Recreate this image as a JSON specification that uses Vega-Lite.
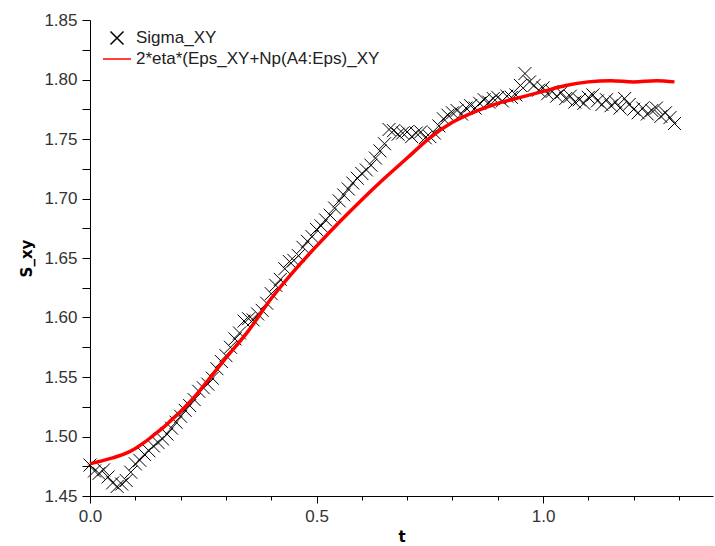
{
  "$schema": "https://vega.github.io/schema/vega-lite/v6.json",
  "width": 623,
  "height": 476,
  "autosize": {"type": "none"},
  "padding": {"left": 90, "top": 20, "right": 2, "bottom": 50},
  "background": "white",
  "config": {
    "view": {"stroke": null},
    "axis": {
      "grid": false,
      "domainColor": "black",
      "tickColor": "black",
      "labelFont": "Liberation Sans",
      "labelFontSize": 17,
      "labelColor": "#333333",
      "titleFont": "DejaVu Sans",
      "titleFontSize": 15,
      "titleFontWeight": "bold",
      "titleColor": "black"
    },
    "legend": {
      "labelFont": "Liberation Sans",
      "labelFontSize": 17,
      "labelColor": "#222222",
      "labelLimit": 0
    }
  },
  "datasets": {
    "sigma": [
      {"t": 0.00, "value": 1.476, "series": "Sigma_XY"},
      {"t": 0.01, "value": 1.471, "series": "Sigma_XY"},
      {"t": 0.02, "value": 1.469, "series": "Sigma_XY"},
      {"t": 0.03, "value": 1.472, "series": "Sigma_XY"},
      {"t": 0.04, "value": 1.466, "series": "Sigma_XY"},
      {"t": 0.05, "value": 1.461, "series": "Sigma_XY"},
      {"t": 0.06, "value": 1.458, "series": "Sigma_XY"},
      {"t": 0.07, "value": 1.460, "series": "Sigma_XY"},
      {"t": 0.08, "value": 1.463, "series": "Sigma_XY"},
      {"t": 0.09, "value": 1.470, "series": "Sigma_XY"},
      {"t": 0.10, "value": 1.477, "series": "Sigma_XY"},
      {"t": 0.11, "value": 1.480, "series": "Sigma_XY"},
      {"t": 0.12, "value": 1.485, "series": "Sigma_XY"},
      {"t": 0.13, "value": 1.488, "series": "Sigma_XY"},
      {"t": 0.14, "value": 1.492, "series": "Sigma_XY"},
      {"t": 0.15, "value": 1.495, "series": "Sigma_XY"},
      {"t": 0.16, "value": 1.498, "series": "Sigma_XY"},
      {"t": 0.17, "value": 1.502, "series": "Sigma_XY"},
      {"t": 0.18, "value": 1.507, "series": "Sigma_XY"},
      {"t": 0.19, "value": 1.512, "series": "Sigma_XY"},
      {"t": 0.20, "value": 1.517, "series": "Sigma_XY"},
      {"t": 0.21, "value": 1.522, "series": "Sigma_XY"},
      {"t": 0.22, "value": 1.526, "series": "Sigma_XY"},
      {"t": 0.23, "value": 1.531, "series": "Sigma_XY"},
      {"t": 0.24, "value": 1.538, "series": "Sigma_XY"},
      {"t": 0.25, "value": 1.541, "series": "Sigma_XY"},
      {"t": 0.26, "value": 1.544, "series": "Sigma_XY"},
      {"t": 0.27, "value": 1.549, "series": "Sigma_XY"},
      {"t": 0.28, "value": 1.557, "series": "Sigma_XY"},
      {"t": 0.29, "value": 1.563, "series": "Sigma_XY"},
      {"t": 0.30, "value": 1.568, "series": "Sigma_XY"},
      {"t": 0.31, "value": 1.575, "series": "Sigma_XY"},
      {"t": 0.32, "value": 1.582, "series": "Sigma_XY"},
      {"t": 0.33, "value": 1.587, "series": "Sigma_XY"},
      {"t": 0.34, "value": 1.597, "series": "Sigma_XY"},
      {"t": 0.35, "value": 1.599, "series": "Sigma_XY"},
      {"t": 0.36, "value": 1.598, "series": "Sigma_XY"},
      {"t": 0.37, "value": 1.603, "series": "Sigma_XY"},
      {"t": 0.38, "value": 1.606, "series": "Sigma_XY"},
      {"t": 0.39, "value": 1.612, "series": "Sigma_XY"},
      {"t": 0.40, "value": 1.620, "series": "Sigma_XY"},
      {"t": 0.41, "value": 1.627, "series": "Sigma_XY"},
      {"t": 0.42, "value": 1.632, "series": "Sigma_XY"},
      {"t": 0.43, "value": 1.641, "series": "Sigma_XY"},
      {"t": 0.44, "value": 1.647, "series": "Sigma_XY"},
      {"t": 0.45, "value": 1.648, "series": "Sigma_XY"},
      {"t": 0.46, "value": 1.652, "series": "Sigma_XY"},
      {"t": 0.47, "value": 1.659, "series": "Sigma_XY"},
      {"t": 0.48, "value": 1.664, "series": "Sigma_XY"},
      {"t": 0.49, "value": 1.668, "series": "Sigma_XY"},
      {"t": 0.50, "value": 1.674, "series": "Sigma_XY"},
      {"t": 0.51, "value": 1.677, "series": "Sigma_XY"},
      {"t": 0.52, "value": 1.682, "series": "Sigma_XY"},
      {"t": 0.53, "value": 1.686, "series": "Sigma_XY"},
      {"t": 0.54, "value": 1.692, "series": "Sigma_XY"},
      {"t": 0.55, "value": 1.698, "series": "Sigma_XY"},
      {"t": 0.56, "value": 1.703, "series": "Sigma_XY"},
      {"t": 0.57, "value": 1.708, "series": "Sigma_XY"},
      {"t": 0.58, "value": 1.713, "series": "Sigma_XY"},
      {"t": 0.59, "value": 1.717, "series": "Sigma_XY"},
      {"t": 0.60, "value": 1.721, "series": "Sigma_XY"},
      {"t": 0.61, "value": 1.724, "series": "Sigma_XY"},
      {"t": 0.62, "value": 1.728, "series": "Sigma_XY"},
      {"t": 0.63, "value": 1.734, "series": "Sigma_XY"},
      {"t": 0.64, "value": 1.740, "series": "Sigma_XY"},
      {"t": 0.65, "value": 1.746, "series": "Sigma_XY"},
      {"t": 0.66, "value": 1.758, "series": "Sigma_XY"},
      {"t": 0.67, "value": 1.757, "series": "Sigma_XY"},
      {"t": 0.68, "value": 1.754, "series": "Sigma_XY"},
      {"t": 0.69, "value": 1.755, "series": "Sigma_XY"},
      {"t": 0.70, "value": 1.756, "series": "Sigma_XY"},
      {"t": 0.71, "value": 1.752, "series": "Sigma_XY"},
      {"t": 0.72, "value": 1.755, "series": "Sigma_XY"},
      {"t": 0.73, "value": 1.756, "series": "Sigma_XY"},
      {"t": 0.74, "value": 1.751, "series": "Sigma_XY"},
      {"t": 0.75, "value": 1.752, "series": "Sigma_XY"},
      {"t": 0.76, "value": 1.755, "series": "Sigma_XY"},
      {"t": 0.77, "value": 1.761, "series": "Sigma_XY"},
      {"t": 0.78, "value": 1.767, "series": "Sigma_XY"},
      {"t": 0.79, "value": 1.770, "series": "Sigma_XY"},
      {"t": 0.80, "value": 1.772, "series": "Sigma_XY"},
      {"t": 0.81, "value": 1.774, "series": "Sigma_XY"},
      {"t": 0.82, "value": 1.771, "series": "Sigma_XY"},
      {"t": 0.83, "value": 1.776, "series": "Sigma_XY"},
      {"t": 0.84, "value": 1.778, "series": "Sigma_XY"},
      {"t": 0.85, "value": 1.776, "series": "Sigma_XY"},
      {"t": 0.86, "value": 1.780, "series": "Sigma_XY"},
      {"t": 0.87, "value": 1.783, "series": "Sigma_XY"},
      {"t": 0.88, "value": 1.781, "series": "Sigma_XY"},
      {"t": 0.89, "value": 1.784, "series": "Sigma_XY"},
      {"t": 0.90, "value": 1.785, "series": "Sigma_XY"},
      {"t": 0.91, "value": 1.782, "series": "Sigma_XY"},
      {"t": 0.92, "value": 1.786, "series": "Sigma_XY"},
      {"t": 0.93, "value": 1.785, "series": "Sigma_XY"},
      {"t": 0.94, "value": 1.787, "series": "Sigma_XY"},
      {"t": 0.95, "value": 1.795, "series": "Sigma_XY"},
      {"t": 0.96, "value": 1.805, "series": "Sigma_XY"},
      {"t": 0.97, "value": 1.798, "series": "Sigma_XY"},
      {"t": 0.98, "value": 1.795, "series": "Sigma_XY"},
      {"t": 0.99, "value": 1.791, "series": "Sigma_XY"},
      {"t": 1.00, "value": 1.793, "series": "Sigma_XY"},
      {"t": 1.01, "value": 1.788, "series": "Sigma_XY"},
      {"t": 1.02, "value": 1.790, "series": "Sigma_XY"},
      {"t": 1.03, "value": 1.786, "series": "Sigma_XY"},
      {"t": 1.04, "value": 1.789, "series": "Sigma_XY"},
      {"t": 1.05, "value": 1.784, "series": "Sigma_XY"},
      {"t": 1.06, "value": 1.786, "series": "Sigma_XY"},
      {"t": 1.07, "value": 1.781, "series": "Sigma_XY"},
      {"t": 1.08, "value": 1.783, "series": "Sigma_XY"},
      {"t": 1.09, "value": 1.780, "series": "Sigma_XY"},
      {"t": 1.10, "value": 1.785, "series": "Sigma_XY"},
      {"t": 1.11, "value": 1.787, "series": "Sigma_XY"},
      {"t": 1.12, "value": 1.782, "series": "Sigma_XY"},
      {"t": 1.13, "value": 1.779, "series": "Sigma_XY"},
      {"t": 1.14, "value": 1.783, "series": "Sigma_XY"},
      {"t": 1.15, "value": 1.778, "series": "Sigma_XY"},
      {"t": 1.16, "value": 1.781, "series": "Sigma_XY"},
      {"t": 1.17, "value": 1.776, "series": "Sigma_XY"},
      {"t": 1.18, "value": 1.784, "series": "Sigma_XY"},
      {"t": 1.19, "value": 1.779, "series": "Sigma_XY"},
      {"t": 1.20, "value": 1.775, "series": "Sigma_XY"},
      {"t": 1.21, "value": 1.772, "series": "Sigma_XY"},
      {"t": 1.22, "value": 1.776, "series": "Sigma_XY"},
      {"t": 1.23, "value": 1.771, "series": "Sigma_XY"},
      {"t": 1.24, "value": 1.774, "series": "Sigma_XY"},
      {"t": 1.25, "value": 1.776, "series": "Sigma_XY"},
      {"t": 1.26, "value": 1.769, "series": "Sigma_XY"},
      {"t": 1.27, "value": 1.772, "series": "Sigma_XY"},
      {"t": 1.28, "value": 1.768, "series": "Sigma_XY"},
      {"t": 1.29, "value": 1.763, "series": "Sigma_XY"}
    ],
    "model": [
      {"t": 0.00, "value": 1.477, "series": "2*eta*(Eps_XY+Np(A4:Eps)_XY"},
      {"t": 0.02, "value": 1.479, "series": "2*eta*(Eps_XY+Np(A4:Eps)_XY"},
      {"t": 0.05, "value": 1.482, "series": "2*eta*(Eps_XY+Np(A4:Eps)_XY"},
      {"t": 0.08, "value": 1.486, "series": "2*eta*(Eps_XY+Np(A4:Eps)_XY"},
      {"t": 0.10, "value": 1.490, "series": "2*eta*(Eps_XY+Np(A4:Eps)_XY"},
      {"t": 0.12, "value": 1.495, "series": "2*eta*(Eps_XY+Np(A4:Eps)_XY"},
      {"t": 0.14, "value": 1.501, "series": "2*eta*(Eps_XY+Np(A4:Eps)_XY"},
      {"t": 0.16, "value": 1.507, "series": "2*eta*(Eps_XY+Np(A4:Eps)_XY"},
      {"t": 0.18, "value": 1.514, "series": "2*eta*(Eps_XY+Np(A4:Eps)_XY"},
      {"t": 0.20, "value": 1.521, "series": "2*eta*(Eps_XY+Np(A4:Eps)_XY"},
      {"t": 0.23, "value": 1.533, "series": "2*eta*(Eps_XY+Np(A4:Eps)_XY"},
      {"t": 0.26, "value": 1.547, "series": "2*eta*(Eps_XY+Np(A4:Eps)_XY"},
      {"t": 0.30, "value": 1.566, "series": "2*eta*(Eps_XY+Np(A4:Eps)_XY"},
      {"t": 0.35, "value": 1.589, "series": "2*eta*(Eps_XY+Np(A4:Eps)_XY"},
      {"t": 0.40, "value": 1.616, "series": "2*eta*(Eps_XY+Np(A4:Eps)_XY"},
      {"t": 0.45, "value": 1.639, "series": "2*eta*(Eps_XY+Np(A4:Eps)_XY"},
      {"t": 0.50, "value": 1.660, "series": "2*eta*(Eps_XY+Np(A4:Eps)_XY"},
      {"t": 0.55, "value": 1.680, "series": "2*eta*(Eps_XY+Np(A4:Eps)_XY"},
      {"t": 0.60, "value": 1.699, "series": "2*eta*(Eps_XY+Np(A4:Eps)_XY"},
      {"t": 0.65, "value": 1.717, "series": "2*eta*(Eps_XY+Np(A4:Eps)_XY"},
      {"t": 0.70, "value": 1.734, "series": "2*eta*(Eps_XY+Np(A4:Eps)_XY"},
      {"t": 0.75, "value": 1.751, "series": "2*eta*(Eps_XY+Np(A4:Eps)_XY"},
      {"t": 0.80, "value": 1.764, "series": "2*eta*(Eps_XY+Np(A4:Eps)_XY"},
      {"t": 0.85, "value": 1.773, "series": "2*eta*(Eps_XY+Np(A4:Eps)_XY"},
      {"t": 0.90, "value": 1.780, "series": "2*eta*(Eps_XY+Np(A4:Eps)_XY"},
      {"t": 0.95, "value": 1.785, "series": "2*eta*(Eps_XY+Np(A4:Eps)_XY"},
      {"t": 1.00, "value": 1.790, "series": "2*eta*(Eps_XY+Np(A4:Eps)_XY"},
      {"t": 1.05, "value": 1.795, "series": "2*eta*(Eps_XY+Np(A4:Eps)_XY"},
      {"t": 1.10, "value": 1.798, "series": "2*eta*(Eps_XY+Np(A4:Eps)_XY"},
      {"t": 1.15, "value": 1.799, "series": "2*eta*(Eps_XY+Np(A4:Eps)_XY"},
      {"t": 1.20, "value": 1.798, "series": "2*eta*(Eps_XY+Np(A4:Eps)_XY"},
      {"t": 1.25, "value": 1.799, "series": "2*eta*(Eps_XY+Np(A4:Eps)_XY"},
      {"t": 1.29, "value": 1.798, "series": "2*eta*(Eps_XY+Np(A4:Eps)_XY"}
    ]
  },
  "layer": [
    {
      "data": {"name": "sigma"},
      "mark": {"type": "point", "filled": false, "strokeWidth": 1, "size": 400, "opacity": 1},
      "encoding": {
        "x": {
          "field": "t", "type": "quantitative",
          "scale": {"domain": [0, 1.375], "nice": false, "zero": false},
          "axis": {"orient": "bottom", "values": [0, 0.5, 1.0], "format": ".1f", "tickSize": 7, "labelPadding": 5, "title": "t", "titlePadding": 5, "labelFlush": false}
        },
        "y": {
          "field": "value", "type": "quantitative",
          "scale": {"domain": [1.45, 1.85], "nice": false, "zero": false},
          "axis": {
            "orient": "left",
            "values": [1.45, 1.475, 1.5, 1.525, 1.55, 1.575, 1.6, 1.625, 1.65, 1.675, 1.7, 1.725, 1.75, 1.775, 1.8, 1.825, 1.85],
            "labelExpr": "round(datum.value * 40) % 2 == 1 ? '' : format(datum.value, '.2f')",
            "tickSize": 8, "labelPadding": 5, "title": "S_xy", "titlePadding": 9, "labelFlush": false
          }
        },
        "color": {
          "field": "series", "type": "nominal",
          "scale": {"domain": ["Sigma_XY", "2*eta*(Eps_XY+Np(A4:Eps)_XY"], "range": ["black", "#ff0000"]},
          "legend": {
            "title": null,
            "orient": "none",
            "legendX": 16,
            "legendY": 7,
            "padding": 0,
            "rowPadding": 0,
            "symbolSize": 400,
            "labelOffset": 8,
            "encode": {
              "symbols": {
                "update": {
                  "strokeWidth": {"signal": "datum.label === 'Sigma_XY' ? 1 : 3"},
                  "fill": {"value": "transparent"},
                  "opacity": {"value": 1}
                }
              }
            }
          }
        },
        "shape": {
          "field": "series", "type": "nominal",
          "scale": {"domain": ["Sigma_XY", "2*eta*(Eps_XY+Np(A4:Eps)_XY"], "range": ["M-0.65,-0.65L0.65,0.65M-0.65,0.65L0.65,-0.65", "M-1.4,0L1.4,0"]},
          "legend": {
            "title": null,
            "orient": "none",
            "legendX": 16,
            "legendY": 7,
            "padding": 0,
            "rowPadding": 0,
            "symbolSize": 400,
            "labelOffset": 8
          }
        }
      }
    },
    {
      "data": {"name": "model"},
      "mark": {"type": "line", "strokeWidth": 3.5, "interpolate": "monotone"},
      "encoding": {
        "x": {
          "field": "t", "type": "quantitative",
          "scale": {"domain": [0, 1.375], "nice": false, "zero": false},
          "axis": {"orient": "bottom", "values": [0.1, 0.2, 0.3, 0.4, 0.6, 0.7, 0.8, 0.9, 1.1, 1.2, 1.3], "tickSize": 4, "labels": false, "domain": false, "title": null}
        },
        "y": {
          "field": "value", "type": "quantitative",
          "scale": {"domain": [1.45, 1.85], "nice": false, "zero": false},
          "axis": null
        },
        "color": {"field": "series", "type": "nominal"}
      }
    }
  ],
  "resolve": {"axis": {"x": "independent", "y": "independent"}}
}
